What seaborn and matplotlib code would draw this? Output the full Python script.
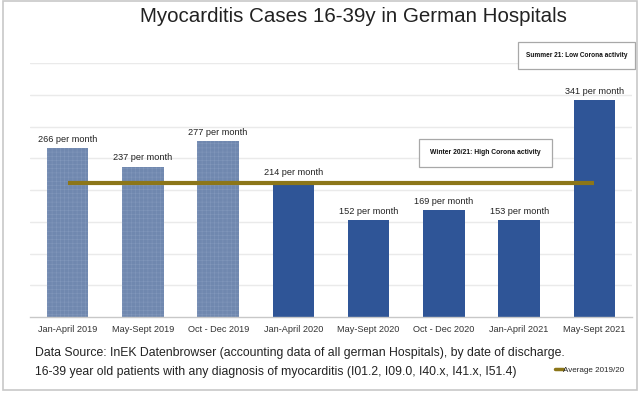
import matplotlib
matplotlib.use("Agg")
import matplotlib.pyplot as plt
import matplotlib.patches as mpatches
from matplotlib.lines import Line2D
import seaborn as sns
import pandas as pd

# ---- data ----
categories = ["Jan-April 2019", "May-Sept 2019", "Oct - Dec 2019", "Jan-April 2020",
              "May-Sept 2020", "Oct - Dec 2020", "Jan-April 2021", "May-Sept 2021"]
cases_per_month = [266, 237, 277, 214, 152, 169, 153, 341]
bar_labels = ["266 per month", "237 per month", "277 per month", "214 per month",
              "152 per month", "169 per month", "153 per month", "341 per month"]
average_2019_20 = 211
title = "Myocarditis Cases 16-39y in German Hospitals"
note_lines = ["Data Source: InEK Datenbrowser (accounting data of all german Hospitals), by date of discharge.",
              "16-39 year old patients with any diagnosis of myocarditis (I01.2, I09.0, I40.x, I41.x, I51.4)"]
box_summer = "Summer 21: Low Corona activity"
box_winter = "Winter 20/21: High Corona activity"
legend_label = "Average 2019/20"

df = pd.DataFrame({"period": categories, "cases": cases_per_month})

sns.set_theme(style="white")
plt.rcParams["font.family"] = ["Liberation Sans", "DejaVu Sans"]
plt.rcParams["hatch.linewidth"] = 0.4

W, H = 640, 393
fig = plt.figure(figsize=(W / 100, H / 100), dpi=100)
ax = fig.add_axes([30 / W, 1 - 317 / H, (632 - 30) / W, (317 - 63) / H])

light = "#7088AF"
dark = "#2F5597"
palette = [light] * 3 + [dark] * 5
sns.barplot(data=df, x="period", y="cases", hue="period", palette=palette,
            legend=False, width=0.55, ax=ax, saturation=1)
for i, p in enumerate(ax.patches):
    p.set_edgecolor("none")
    if i < 3:
        p.set_hatch("++++")
        p.set_edgecolor("#8197BB")
        p.set_linewidth(0)

ax.set_ylim(0, 400)
ax.set_xlim(-0.5, 7.5)
ax.set_yticks(range(50, 401, 50))
ax.yaxis.grid(True, color="#EAEAEA", linewidth=1)
ax.set_axisbelow(True)
ax.set_yticklabels([])
ax.tick_params(axis="y", length=0)
ax.tick_params(axis="x", length=0, labelsize=6.6, colors="#333333", pad=6)
ax.set_xlabel("")
ax.set_ylabel("")
for s in ["top", "right", "left"]:
    ax.spines[s].set_visible(False)
ax.spines["bottom"].set_color("#C8C8C8")
ax.spines["bottom"].set_linewidth(1)

for p, lab in zip(ax.patches, bar_labels):
    ax.annotate(lab, (p.get_x() + p.get_width() / 2, p.get_height()),
                xytext=(0, 3), textcoords="offset points", ha="center", va="bottom",
                fontsize=6.6, color="#222222")

avg_color = "#8C7619"
ax.plot([0, len(categories) - 1], [average_2019_20, average_2019_20],
        color=avg_color, linewidth=3, solid_capstyle="butt", zorder=5)

# title
fig.text(353 / W, 1 - 16 / H, title, ha="center", va="center", fontsize=14.8, color="#222222")

# annotation boxes
def box(x0, y0, x1, y1, txt, fs):
    rect = mpatches.Rectangle((x0 / W, 1 - y1 / H), (x1 - x0) / W, (y1 - y0) / H,
                              transform=fig.transFigure, facecolor="white",
                              edgecolor="#A8A8A8", linewidth=0.9, zorder=10)
    fig.patches.append(rect)
    fig.text((x0 + x1) / 2 / W, 1 - (y0 + y1) / 2 / H, txt, ha="center", va="center",
             fontsize=fs, fontweight="bold", color="#111111", zorder=11)

box(518, 42, 635, 69, box_summer, 4.7)
box(419, 139, 552, 167, box_winter, 4.9)

# notes
fig.text(35 / W, 1 - 353 / H, note_lines[0], ha="left", va="center", fontsize=8.8, color="#222222")
fig.text(35 / W, 1 - 372 / H, note_lines[1], ha="left", va="center", fontsize=8.8, color="#222222")

# legend
handle = Line2D([], [], color=avg_color, linewidth=2.5)
fig.legend([handle], [legend_label], loc="center left",
           bbox_to_anchor=(555 / W, 1 - 370 / H), frameon=False, fontsize=5.8,
           handlelength=1.0, handletextpad=0.0, borderpad=0, borderaxespad=0)

# outer frame
frame = mpatches.Rectangle((3 / W, 1 - 390 / H), (637 - 3) / W, (390 - 1) / H,
                           transform=fig.transFigure, facecolor="none",
                           edgecolor="#C8C8C8", linewidth=1.2, zorder=20)
fig.patches.append(frame)

fig.savefig("out.png", dpi=100)
